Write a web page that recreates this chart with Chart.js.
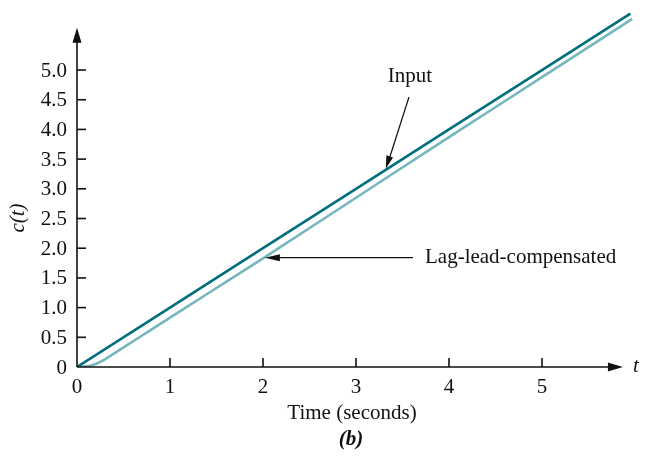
<!DOCTYPE html>
<html>
<head>
<meta charset="utf-8">
<script src="https://cdn.jsdelivr.net/npm/chart.js@4/dist/chart.umd.min.js"></script>
<style>
  html, body { margin: 0; padding: 0; background: #fff; }
  #wrap { width: 645px; height: 465px; }
</style>
</head>
<body>
<div id="wrap"><canvas id="respChart"></canvas></div>
<script>
// ramp input and compensated response
var inputT = [0, 1, 2, 3, 4, 5, 5.95];
var inputC = [0, 1, 2, 3, 4, 5, 5.95];
var lagT = [0, 0.05, 0.1, 0.15, 0.2, 0.25, 0.3, 0.4, 0.5, 0.7, 1.0, 1.5, 2, 3, 4, 5, 5.97];
var lagC = [0, 0.002, 0.01, 0.025, 0.05, 0.085, 0.13, 0.23, 0.33, 0.53, 0.83, 1.33, 1.83, 2.85, 3.87, 4.88, 5.86];
var xTicks = [0, 1, 2, 3, 4, 5];
var yTicks = [0.5, 1.0, 1.5, 2.0, 2.5, 3.0, 3.5, 4.0, 4.5, 5.0];

function pts(xs, ys) {
    return xs.map(function (x, i) { return { x: x, y: ys[i] }; });
}

var serif = '"Liberation Serif", "DejaVu Serif", serif';

function arrowHead(ctx, x, y, ang, len, wid) {
    ctx.save();
    ctx.translate(x, y);
    ctx.rotate(ang);
    ctx.beginPath();
    ctx.moveTo(0, 0);
    ctx.lineTo(-len, -wid / 2);
    ctx.lineTo(-len, wid / 2);
    ctx.closePath();
    ctx.fill();
    ctx.restore();
}

var axesPlugin = {
    id: 'axesPlugin',
    afterDatasetsDraw: function (chart) {
        var ctx = chart.ctx;
        var xs = chart.scales.x, ys = chart.scales.y;
        var x0 = xs.getPixelForValue(0), y0 = ys.getPixelForValue(0);
        var xEnd = xs.getPixelForValue(5.87), yEnd = ys.getPixelForValue(5.71);
        ctx.save();
        ctx.strokeStyle = '#111';
        ctx.fillStyle = '#111';
        ctx.lineWidth = 1.6;
        // axes
        ctx.beginPath();
        ctx.moveTo(x0, y0); ctx.lineTo(xEnd - 8, y0);
        ctx.moveTo(x0, y0); ctx.lineTo(x0, yEnd + 8);
        ctx.stroke();
        arrowHead(ctx, xEnd, y0, 0, 15, 9);
        arrowHead(ctx, x0, yEnd, -Math.PI / 2, 15, 9);

        ctx.font = '21px ' + serif;
        // y ticks (pointing right) and labels
        ctx.textAlign = 'right';
        ctx.textBaseline = 'middle';
        yTicks.forEach(function (v) {
            var py = ys.getPixelForValue(v);
            ctx.beginPath();
            ctx.moveTo(x0, py); ctx.lineTo(x0 + 9, py);
            ctx.stroke();
            ctx.fillText(v.toFixed(1), x0 - 10, py + 1);
        });
        ctx.fillText('0', x0 - 10, y0 + 1);
        // x ticks (pointing up) and labels
        ctx.textAlign = 'center';
        xTicks.forEach(function (v) {
            var px = xs.getPixelForValue(v);
            if (v > 0) {
                ctx.beginPath();
                ctx.moveTo(px, y0); ctx.lineTo(px, y0 - 9);
                ctx.stroke();
            }
            ctx.fillText(String(v), px, y0 + 20);
        });
        ctx.fillText('Time (seconds)', 352, 413);
        ctx.font = 'bold italic 21px ' + serif;
        ctx.fillText('(b)', 351, 440);

        ctx.font = 'italic 21px ' + serif;
        ctx.textAlign = 'left';
        ctx.fillText('t', xEnd + 10, y0 - 1);
        ctx.save();
        ctx.translate(18, 218);
        ctx.rotate(-Math.PI / 2);
        ctx.textAlign = 'center';
        ctx.fillText('c(t)', 0, 0);
        ctx.restore();

        // annotations
        ctx.font = '21px ' + serif;
        ctx.textAlign = 'center';
        ctx.fillText('Input', 410, 76);
        ctx.textAlign = 'left';
        ctx.fillText('Lag-lead-compensated', 425, 257);

        ctx.lineWidth = 1.2;
        var tx = xs.getPixelForValue(3.32), ty = ys.getPixelForValue(3.32);
        var sx = 409, sy = 97;
        var ang = Math.atan2(ty - sy, tx - sx);
        ctx.beginPath();
        ctx.moveTo(sx, sy);
        ctx.lineTo(tx - 10 * Math.cos(ang), ty - 10 * Math.sin(ang));
        ctx.stroke();
        arrowHead(ctx, tx, ty - 1, ang, 13, 7);

        var lx = xs.getPixelForValue(2.02), ly = ys.getPixelForValue(1.84);
        ctx.beginPath();
        ctx.moveTo(413, ly); ctx.lineTo(lx + 10, ly);
        ctx.stroke();
        arrowHead(ctx, lx, ly, Math.PI, 15, 7);
        ctx.restore();
    }
};

var ctx = document.getElementById('respChart').getContext('2d');
var respChart = new Chart(ctx, {
    type: 'scatter',
    data: {
        datasets: [{
            label: 'Input',
            data: pts(inputT, inputC),
            showLine: true,
            borderColor: '#006e7c',
            borderWidth: 2.6,
            pointRadius: 0,
            fill: false
        }, {
            label: 'Lag-lead-compensated',
            data: pts(lagT, lagC),
            showLine: true,
            borderColor: '#76b6bd',
            borderWidth: 2.6,
            pointRadius: 0,
            cubicInterpolationMode: 'monotone',
            fill: false
        }]
    },
    options: {
        responsive: true,
        maintainAspectRatio: false,
        animation: false,
        layout: { padding: { left: 77, right: 0.7, top: 4.7, bottom: 98 } },
        scales: {
            x: { type: 'linear', display: false, min: 0, max: 6.1 },
            y: { type: 'linear', display: false, min: 0, max: 6.1 }
        },
        plugins: {
            legend: { display: false },
            tooltip: { enabled: false }
        }
    },
    plugins: [axesPlugin]
});
</script>
</body>
</html>
